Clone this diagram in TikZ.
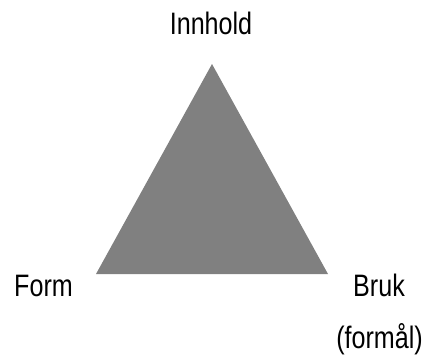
\documentclass[tikz,border=0pt]{standalone}
\usepackage{fontspec}
\setmainfont{Liberation Sans}[FakeStretch=0.81]
\begin{document}
\begin{tikzpicture}[x=1pt,y=-1pt,
  lbl/.style={inner sep=0pt,font=\fontsize{31}{37}\selectfont},
  tri/.style={fill={rgb,255:red,128;green,128;blue,128},draw=none}]
\useasboundingbox (0,0) rectangle (427,356);
\coordinate (A) at (212,64);
\coordinate (L) at (96,274);
\coordinate (R) at (328,274);
\fill[tri] (A) -- (L) -- (R) -- cycle;
\node[lbl,anchor=base] (inn) at (211,34) {Innhold};
\node[lbl,anchor=base west] (form) at (14,296) {Form};
\node[lbl,anchor=base] (bruk) at (379,296) {Bruk};
\node[lbl,anchor=base] (formal) at (379.5,348) {(formål)};
\end{tikzpicture}
\end{document}
